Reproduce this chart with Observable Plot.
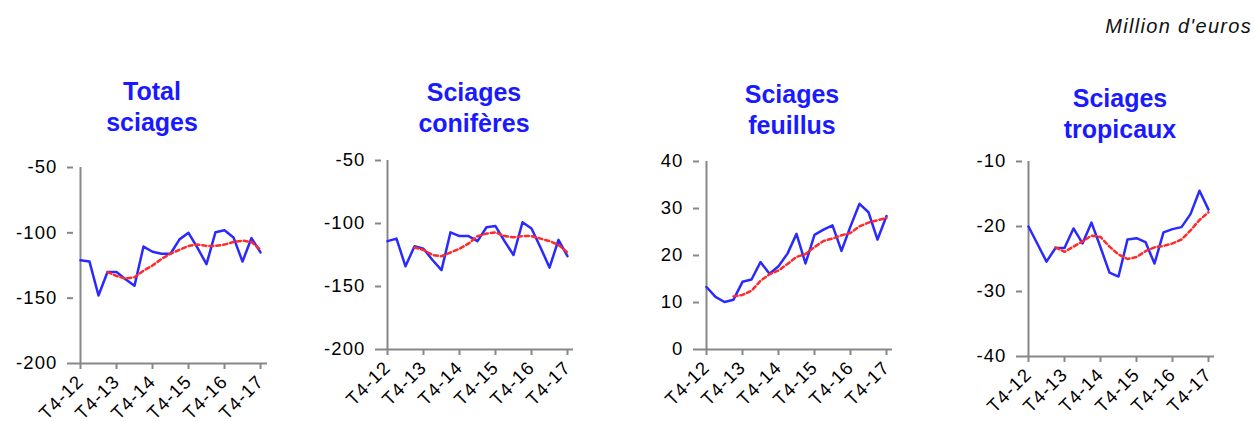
<!DOCTYPE html>
<html>
<head>
<meta charset="utf-8">
<script src="https://cdn.jsdelivr.net/npm/d3@7"></script>
<script src="https://cdn.jsdelivr.net/npm/@observablehq/plot@0.6"></script>
<style>
  html, body { margin: 0; padding: 0; background: #fff; }
  #root { position: relative; width: 1255px; height: 421px; overflow: hidden; background: #fff; }
  .title { position: absolute; width: 240px; margin-left: -120px; text-align: center;
           font-family: "Liberation Sans", Arial, sans-serif; font-weight: bold; font-size: 25px;
           line-height: 31px; color: #1a1aff; }
  .unit { position: absolute; right: 3px; top: 15px; font-family: "Liberation Sans", Arial, sans-serif;
          font-style: italic; font-size: 20px; letter-spacing: 1.3px; color: #111; }
  .panel { position: absolute; top: 140px; }
</style>
</head>
<body>
<div id="root">
  <div class="unit">Million d'euros</div>
</div>
<script>
// Quarters (x categories)
const quarters = ["T4-12","T1-13","T2-13","T3-13","T4-13","T1-14","T2-14","T3-14","T4-14",
  "T1-15","T2-15","T3-15","T4-15","T1-16","T2-16","T3-16","T4-16","T1-17","T2-17","T3-17","T4-17"];
const xTickLabels = ["T4-12","T4-13","T4-14","T4-15","T4-16","T4-17"];

// Panel titles
const titles = [["Total","sciages"],["Sciages","conifères"],["Sciages","feuillus"],["Sciages","tropicaux"]];

// Series values (quarterly balance) and 4-quarter moving average (from T3-13)
const totalValues = [-121,-122,-148,-130,-130,-135.5,-140.5,-110.5,-114.5,-116,-116,-105,-100,-111.5,-124,-99.5,-98,-103.5,-122,-104,-115];
const totalAvg = [-130,-133,-135,-134,-129,-125,-120,-116,-113,-110,-109,-110,-110,-109,-107,-106,-107,-113];

const coniferValues = [-114,-112,-134,-118,-120,-129,-137,-107,-110,-110,-114,-103,-102,-114,-125,-99,-104,-119,-135,-113,-126];
const coniferAvg = [-119,-121,-125,-126,-123,-120,-116,-110,-108,-107,-110,-111,-110,-110,-112,-114,-117,-123];

const feuillusValues = [13.3,11.2,10.1,10.6,14.4,14.9,18.6,16.1,17.7,20.4,24.6,18.3,24.4,25.5,26.4,21.0,26.2,31.0,29.2,23.4,28.4];
const feuillusAvg = [11.3,11.6,12.5,14.6,16.0,16.8,18.2,19.7,20.3,21.8,23.1,23.6,24.3,24.8,26.2,27.0,27.5,28.0];

const tropicValues = [-20.0,-22.7,-25.4,-23.3,-23.3,-20.3,-22.6,-19.4,-23.2,-27.1,-27.7,-22.0,-21.8,-22.4,-25.7,-20.9,-20.4,-20.1,-18.1,-14.5,-17.4];
const tropicAvg = [-23.2,-23.9,-23.1,-22.3,-21.4,-21.6,-23.1,-24.3,-25.0,-24.7,-23.8,-23.2,-23.0,-22.6,-22.0,-20.6,-19.0,-17.8];

// Y ticks
const yTicksTotal = [-200,-150,-100,-50];
const yTicksConifer = [-200,-150,-100,-50];
const yTicksFeuillus = [0,10,20,30,40];
const yTicksTropic = [-40,-30,-20,-10];

const panels = [
  {values: totalValues, avg: totalAvg, ticks: yTicksTotal, left: 0, width: 300, ml: 73, mr: 33, mt: 27, mb: 58, tx: 152, ty: 76},
  {values: coniferValues, avg: coniferAvg, ticks: yTicksConifer, left: 300, width: 300, ml: 81, mr: 27, mt: 20, mb: 72, tx: 474, ty: 77},
  {values: feuillusValues, avg: feuillusAvg, ticks: yTicksFeuillus, left: 620, width: 300, ml: 79, mr: 28, mt: 21, mb: 72, tx: 792, ty: 79},
  {values: tropicValues, avg: tropicAvg, ticks: yTicksTropic, left: 940, width: 315, ml: 82, mr: 41, mt: 21, mb: 65, tx: 1120, ty: 83}
];

const root = document.getElementById("root");
const axisColor = "#878787";

panels.forEach((p, k) => {
  const raw = quarters.map((q, i) => ({q, v: p.values[i]}));
  const ma = quarters.slice(3).map((q, i) => ({q, v: p.avg[i]}));
  const yDomain = [p.ticks[0], p.ticks[p.ticks.length - 1]];
  const chart = Plot.plot({
    width: p.width, height: 281,
    marginLeft: p.ml, marginRight: p.mr, marginTop: p.mt, marginBottom: p.mb,
    style: {fontFamily: "Liberation Sans, Arial, sans-serif", fontSize: "18.5px", letterSpacing: "1.1px",
            background: "transparent", overflow: "visible", maxWidth: "none", color: "#000"},
    x: {type: "point", domain: quarters, padding: 0},
    y: {domain: yDomain},
    marks: [
      Plot.axisY({ticks: p.ticks, tickFormat: d => String(d), tickSize: 6, tickPadding: 10,
                  stroke: axisColor, strokeWidth: 2, fill: "#000", label: null}),
      Plot.axisX({ticks: xTickLabels, tickFormat: d => d, tickSize: 6, tickPadding: 9, tickRotate: -45,
                  stroke: axisColor, strokeWidth: 2, fill: "#000", label: null}),
      Plot.ruleX([quarters[0]], {stroke: axisColor, strokeWidth: 2}),
      Plot.ruleY([yDomain[0]], {stroke: axisColor, strokeWidth: 2}),
      Plot.line(raw, {x: "q", y: "v", stroke: "#2a2aff", strokeWidth: 2.5}),
      Plot.line(ma, {x: "q", y: "v", stroke: "#ff2a2a", strokeWidth: 2.5, strokeDasharray: "4,3"})
    ]
  });
  const holder = document.createElement("div");
  holder.className = "panel";
  holder.style.left = p.left + "px";
  holder.appendChild(chart);
  root.appendChild(holder);

  const t = document.createElement("div");
  t.className = "title";
  t.style.left = p.tx + "px";
  t.style.top = p.ty + "px";
  t.innerHTML = titles[k][0] + "<br>" + titles[k][1];
  root.appendChild(t);
});
</script>
</body>
</html>
